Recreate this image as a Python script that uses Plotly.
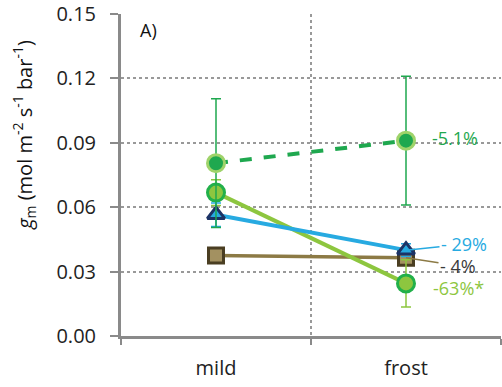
import plotly.graph_objects as go

categories = ["mild", "frost"]

# series values (g_m, mol m-2 s-1 bar-1)
dark_green_vals = [0.0805, 0.091]
dark_green_err = [0.030, 0.030]
light_green_vals = [0.0668, 0.0245]
light_green_err = [0.006, 0.011]
blue_vals = [0.0565, 0.040]
blue_err = [0.0055, 0.003]
brown_vals = [0.0375, 0.0365]
brown_err = [0.001, 0.001]

y_ticks = [0.00, 0.03, 0.06, 0.09, 0.12, 0.15]
labels = ["-5.1%", "-63%*", "- 29%", "- 4%"]

FONT = "Open Sans"
DG = "#1fa84f"
DG_RING = "#9fd36a"
LG = "#8dc63f"
LG_RING = "#22b04a"
BLUE = "#27aae1"
NAVY = "#1c3366"
BROWN_LINE = "#8c7a45"
BROWN_FILL = "#a39161"
BROWN_EDGE = "#4a3e22"

fig = go.Figure()

fig.add_trace(go.Scatter(
    x=categories, y=brown_vals, mode="lines+markers",
    line=dict(color=BROWN_LINE, width=3.5),
    marker=dict(symbol="square", size=15, color=BROWN_FILL,
                line=dict(color=BROWN_EDGE, width=3)),
    error_y=dict(type="data", array=brown_err, color=BROWN_LINE, thickness=1.5, width=5),
    showlegend=False))

fig.add_trace(go.Scatter(
    x=categories, y=light_green_vals, mode="lines+markers",
    line=dict(color=LG, width=4),
    marker=dict(symbol="circle", size=17, color=LG,
                line=dict(color=LG_RING, width=3)),
    error_y=dict(type="data", array=light_green_err, color=LG, thickness=1.5, width=5),
    showlegend=False))

fig.add_trace(go.Scatter(
    x=categories, y=blue_vals, mode="lines+markers",
    line=dict(color=BLUE, width=4),
    marker=dict(symbol="triangle-up", size=15, color=BLUE,
                line=dict(color=NAVY, width=3)),
    error_y=dict(type="data", array=blue_err, color=BLUE, thickness=1.5, width=5),
    showlegend=False))

fig.add_trace(go.Scatter(
    x=categories, y=dark_green_vals, mode="lines+markers",
    line=dict(color=DG, width=4, dash="dash"),
    marker=dict(symbol="circle", size=17, color=DG,
                line=dict(color=DG_RING, width=3)),
    error_y=dict(type="data", array=dark_green_err, color=DG, thickness=1.5, width=5),
    showlegend=False))

# percentage labels
fig.add_annotation(x=categories[1], y=dark_green_vals[1], text=labels[0],
                   showarrow=False, xanchor="left", xshift=24, yshift=3,
                   font=dict(family=FONT, size=18, color=DG))
fig.add_annotation(x=categories[1], y=light_green_vals[1], text=labels[1],
                   showarrow=False, xanchor="left", xshift=25, yshift=-5,
                   font=dict(family=FONT, size=18, color=LG))
fig.add_annotation(x=categories[1], y=blue_vals[1], text=labels[2],
                   showarrow=True, arrowhead=0, arrowwidth=1.5, arrowcolor=BLUE,
                   ax=58, ay=-6, font=dict(family=FONT, size=18, color=BLUE))
fig.add_annotation(x=categories[1], y=brown_vals[1], text=labels[3],
                   showarrow=True, arrowhead=0, arrowwidth=1.5, arrowcolor=BROWN_LINE,
                   ax=52, ay=8, font=dict(family=FONT, size=18, color="#3a3a3a"))

fig.add_annotation(xref="paper", yref="paper", x=0.045, y=0.95, text="A)",
                   showarrow=False, xanchor="left", yanchor="middle",
                   font=dict(family=FONT, size=18, color="#111"))

fig.add_annotation(xref="paper", yref="paper", x=-0.255, y=0.625,
                   text="<i>g</i><sub>m</sub> (mol m<sup>-2</sup> s<sup>-1</sup> bar<sup>-1</sup>)",
                   textangle=-90, showarrow=False, xanchor="center", yanchor="middle",
                   font=dict(family=FONT, size=20, color="#111"))

fig.update_layout(
    width=502, height=387,
    margin=dict(l=121, r=1, t=14, b=51),
    paper_bgcolor="white", plot_bgcolor="white",
    font=dict(family=FONT, size=20, color="#222"),
    xaxis=dict(type="category", range=[-0.5, 1.5], tickson="boundaries",
               showgrid=True, gridcolor="#999", griddash="dot", gridwidth=1.5,
               showline=True, linecolor="#8a8a8a", linewidth=3,
               ticks="outside", ticklen=6, tickwidth=2, tickcolor="#8a8a8a",
               ticklabelstandoff=12, tickfont=dict(family=FONT, size=20, color="#222"),
               zeroline=False, fixedrange=True, automargin=False),
    yaxis=dict(range=[0, 0.15], tickvals=y_ticks, tickformat=".2f",
               showgrid=True, gridcolor="#999", griddash="dot", gridwidth=1.5,
               showline=True, linecolor="#8a8a8a", linewidth=3,
               ticks="outside", ticklen=8, tickwidth=2, tickcolor="#8a8a8a",
               ticklabelstandoff=10, tickfont=dict(family=FONT, size=20, color="#222"),
               zeroline=False, fixedrange=True, automargin=False),
)

fig.write_html("out.html", config={"displayModeBar": False},
               post_script="document.body.style.margin='0';document.body.style.overflow='hidden';")
